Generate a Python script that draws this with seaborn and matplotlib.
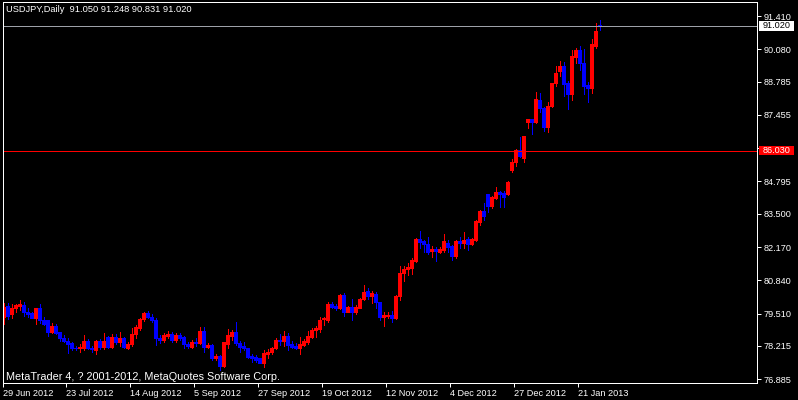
import numpy as np
import pandas as pd
import matplotlib
matplotlib.use('Agg')
import matplotlib.pyplot as plt
import matplotlib.transforms as mtransforms
from matplotlib.patches import Rectangle
import seaborn as sns

# USDJPY daily, 29 Jun 2012 .. 25 Jan 2013
opens = [
    79.38, 79.81, 79.48, 79.72, 79.82, 79.85, 79.58, 79.53, 79.34, 79.72,
    79.24, 79.24, 78.78, 79.01, 78.76, 78.54, 78.41, 78.33, 78.14, 78.12,
    78.14, 78.41, 78.14, 78.05, 78.41, 78.18, 78.58, 78.18, 78.58, 78.36,
    78.54, 78.14, 78.28, 78.68, 78.94, 79.28, 79.52, 79.37, 79.25, 78.54,
    78.44, 78.61, 78.68, 78.44, 78.65, 78.57, 78.30, 78.18, 78.36, 78.34,
    78.81, 78.17, 78.25, 77.72, 77.81, 77.41, 78.28, 78.62, 78.76, 78.32,
    78.21, 78.12, 77.82, 77.78, 77.72, 77.54, 77.90, 77.96, 78.12, 78.45,
    78.42, 78.61, 78.30, 78.22, 78.12, 78.25, 78.38, 78.58, 78.85, 78.88,
    79.29, 79.25, 79.88, 79.80, 79.74, 80.25, 79.58, 79.77, 79.56, 79.74,
    80.09, 80.41, 80.22, 80.29, 79.96, 79.38, 79.41, 79.45, 79.32, 80.20,
    81.12, 81.29, 81.34, 81.62, 82.48, 82.41, 82.28, 82.01, 82.09, 81.98,
    82.05, 82.32, 82.20, 81.82, 82.41, 82.32, 82.48, 82.30, 82.45, 83.18,
    83.61, 84.28, 83.82, 84.14, 84.36, 84.33, 84.28, 85.24, 85.56, 86.05,
    85.74, 87.18, 87.29, 87.16, 88.05, 87.72, 86.98, 87.80, 88.72, 89.22,
    89.41, 88.73, 88.30, 89.78, 90.04, 89.54, 88.65, 88.54, 90.22, 91.05]
highs = [
    79.92, 79.92, 79.88, 79.88, 80.05, 79.96, 79.72, 79.58, 79.74, 79.88,
    79.36, 79.26, 79.12, 79.08, 78.78, 78.65, 78.52, 78.38, 78.22, 78.28,
    78.65, 78.49, 78.22, 78.45, 78.49, 78.72, 78.62, 78.68, 78.68, 78.78,
    78.58, 78.38, 78.92, 79.05, 79.34, 79.56, 79.61, 79.48, 79.32, 78.65,
    78.72, 78.81, 78.76, 78.72, 78.72, 78.62, 78.38, 78.45, 78.52, 78.97,
    78.97, 78.32, 78.28, 77.88, 77.85, 78.38, 78.89, 78.85, 79.18, 78.41,
    78.38, 78.14, 77.88, 77.85, 77.72, 78.05, 78.09, 78.18, 78.54, 78.68,
    78.81, 78.72, 78.41, 78.32, 78.57, 78.49, 78.81, 78.92, 79.02, 79.38,
    79.38, 79.96, 79.96, 79.88, 80.30, 80.32, 79.82, 80.09, 79.85, 80.14,
    80.65, 80.52, 80.41, 80.36, 79.98, 79.58, 79.56, 79.61, 80.25, 81.42,
    81.42, 81.52, 81.74, 82.52, 82.81, 82.45, 82.58, 82.22, 82.18, 82.18,
    82.68, 82.45, 82.25, 82.45, 82.58, 82.76, 82.58, 82.54, 83.25, 83.65,
    83.92, 84.28, 84.22, 84.57, 84.41, 84.41, 84.81, 85.69, 86.09, 86.58,
    86.62, 87.29, 87.29, 88.36, 88.32, 87.78, 87.96, 88.73, 89.41, 89.61,
    89.58, 88.81, 90.05, 90.12, 90.20, 90.09, 88.78, 90.49, 91.12, 91.248]
lows = [
    79.08, 79.28, 79.34, 79.56, 79.65, 79.42, 79.38, 79.32, 79.08, 79.12,
    79.05, 78.62, 78.72, 78.68, 78.41, 78.36, 77.92, 78.05, 78.05, 77.96,
    78.05, 78.09, 77.97, 77.88, 78.09, 78.09, 78.12, 78.12, 78.28, 78.22,
    78.12, 78.09, 78.22, 78.54, 78.85, 79.21, 79.32, 79.16, 78.25, 78.32,
    78.38, 78.52, 78.38, 78.38, 78.44, 78.14, 78.14, 78.14, 78.22, 78.30,
    77.96, 78.12, 77.65, 77.65, 77.25, 77.38, 78.12, 78.45, 78.25, 77.96,
    78.05, 77.74, 77.58, 77.58, 77.52, 77.38, 77.72, 77.90, 78.09, 78.25,
    78.22, 78.05, 78.12, 78.09, 77.90, 78.22, 78.28, 78.54, 78.58, 78.78,
    79.05, 79.16, 79.72, 79.64, 79.69, 79.42, 79.56, 79.24, 79.48, 79.72,
    80.05, 80.09, 79.92, 79.72, 79.25, 79.02, 79.32, 79.16, 79.29, 80.05,
    80.81, 81.05, 81.08, 81.58, 82.14, 81.98, 81.88, 81.78, 81.61, 81.92,
    81.98, 81.96, 81.65, 81.74, 82.14, 82.14, 82.05, 82.25, 82.41, 83.05,
    83.25, 83.56, 83.74, 84.09, 83.77, 83.78, 84.25, 85.18, 85.42, 85.78,
    85.58, 86.92, 86.70, 87.12, 87.58, 86.81, 86.76, 87.77, 88.62, 89.02,
    88.22, 87.69, 88.05, 89.53, 89.25, 88.28, 87.96, 88.32, 90.12, 90.831]
closes = [
    79.78, 79.41, 79.72, 79.84, 79.89, 79.58, 79.50, 79.34, 79.72, 79.24,
    79.09, 78.78, 79.01, 78.74, 78.52, 78.41, 78.30, 78.12, 78.12, 78.18,
    78.41, 78.12, 78.09, 78.41, 78.18, 78.41, 78.18, 78.58, 78.36, 78.54,
    78.18, 78.28, 78.68, 78.98, 79.29, 79.52, 79.38, 79.24, 78.52, 78.44,
    78.65, 78.68, 78.44, 78.65, 78.54, 78.30, 78.20, 78.36, 78.32, 78.81,
    78.18, 78.25, 77.72, 77.81, 77.42, 78.36, 78.65, 78.76, 78.32, 78.18,
    78.12, 77.78, 77.74, 77.65, 77.54, 77.92, 77.98, 78.14, 78.45, 78.42,
    78.61, 78.25, 78.18, 78.12, 78.28, 78.41, 78.61, 78.85, 78.92, 79.25,
    79.34, 79.88, 79.78, 79.74, 80.25, 79.58, 79.77, 79.58, 79.77, 80.09,
    80.36, 80.22, 80.33, 79.96, 79.38, 79.45, 79.45, 79.32, 80.20, 81.12,
    81.28, 81.37, 81.65, 82.48, 82.38, 82.30, 81.98, 82.09, 82.01, 82.09,
    82.41, 82.17, 81.82, 82.41, 82.32, 82.45, 82.28, 82.48, 83.21, 83.61,
    83.42, 83.82, 84.17, 84.36, 84.30, 84.18, 84.76, 85.56, 86.05, 85.82,
    86.60, 87.29, 87.16, 88.09, 87.72, 86.98, 87.80, 88.72, 89.12, 89.41,
    88.69, 88.30, 89.80, 90.04, 89.54, 88.62, 88.54, 90.28, 90.81, 91.02]

date_labels = ['29 Jun 2012', '23 Jul 2012', '14 Aug 2012', '5 Sep 2012', '27 Sep 2012',
               '19 Oct 2012', '12 Nov 2012', '4 Dec 2012', '27 Dec 2012', '21 Jan 2013']
price_ticks = [91.410, 90.080, 88.785, 87.455, 86.125, 84.795,
               83.500, 82.170, 80.840, 79.510, 78.215, 76.885]
bid = 91.020
hline_level = 86.030
title = 'USDJPY,Daily  91.050 91.248 90.831 91.020'
copyright_txt = 'MetaTrader 4, ? 2001-2012, MetaQuotes Software Corp.'

sns.set_theme(style='dark', rc={'axes.facecolor': 'black', 'figure.facecolor': 'black',
                                'axes.edgecolor': 'white', 'axes.grid': False})
plt.rcParams['font.family'] = ['Liberation Sans', 'DejaVu Sans']

df = pd.DataFrame({'open': opens, 'high': highs, 'low': lows, 'close': closes})
df['bar'] = np.arange(len(df))
colors = np.where(df['close'] >= df['open'], '#ff0000', '#0000ff')

px = 0.72  # one pixel in points at 100 dpi

fig = plt.figure(figsize=(7.98, 4.0), dpi=100)
ax = fig.add_axes([3 / 798, 17 / 400, 754 / 798, 381 / 400])

# candles: wick + body, drawn pixel-crisp like the terminal does
ax.vlines(df['bar'], df['low'], df['high'], colors=colors, linewidth=px, antialiased=False)
body = (df['close'] - df['open']).abs().clip(lower=0.03)
ax.bar(df['bar'], body, bottom=np.minimum(df['open'], df['close']), width=0.72,
       color=colors, edgecolor=colors, linewidth=0.4, antialiased=False)

ax.set_xlim(-0.2, 188.3)
ax.set_ylim(76.73, 91.97)

# date axis
xticks = [max(16 * k - 0.5, -0.2) for k in range(len(date_labels))]
ax.set_xticks(xticks)
ax.set_xticklabels(date_labels, ha='left')
offset = mtransforms.ScaledTranslation(3 / 100, 0, fig.dpi_scale_trans)
for lab in ax.get_xticklabels():
    lab.set_transform(lab.get_transform() + offset)

# price axis
ax.yaxis.tick_right()
ax.set_yticks(price_ticks)
ax.set_yticklabels([f'{v:.3f}' for v in price_ticks])
ax.tick_params(axis='both', colors='white', direction='out', length=3, width=px,
               labelsize=6.6, pad=1.5, bottom=True, right=True, left=False, top=False)
for s in ax.spines.values():
    s.set_color('white')
    s.set_linewidth(px)

# bid line and horizontal line with their price boxes
ax.axhline(bid, color='#9da1a8', lw=px, snap=True)
ax.axhline(hline_level, color='#ff0000', lw=px, snap=True)
blend = mtransforms.blended_transform_factory(ax.transAxes, ax.transData)
for level, fc, tc in [(bid, 'white', 'black'), (hline_level, '#ff0000', 'white')]:
    ax.add_patch(Rectangle((1.0027, level - 0.19), 0.0464, 0.38, transform=blend,
                           fc=fc, ec='none', clip_on=False, zorder=5))
    ax.text(1.0027 + 0.0464 / 2, level, f'{level:.3f}', transform=blend, ha='center',
            va='center', fontsize=6.6, color=tc, zorder=6, clip_on=False)

fig.text(6 / 798, 1 - 12.5 / 400, title, color='white', fontsize=6.7, va='baseline')
fig.text(6 / 798, 1 - 379.5 / 400, copyright_txt, color='white', fontsize=7.8, va='baseline')

fig.savefig('out.png', dpi=100, facecolor='black')
